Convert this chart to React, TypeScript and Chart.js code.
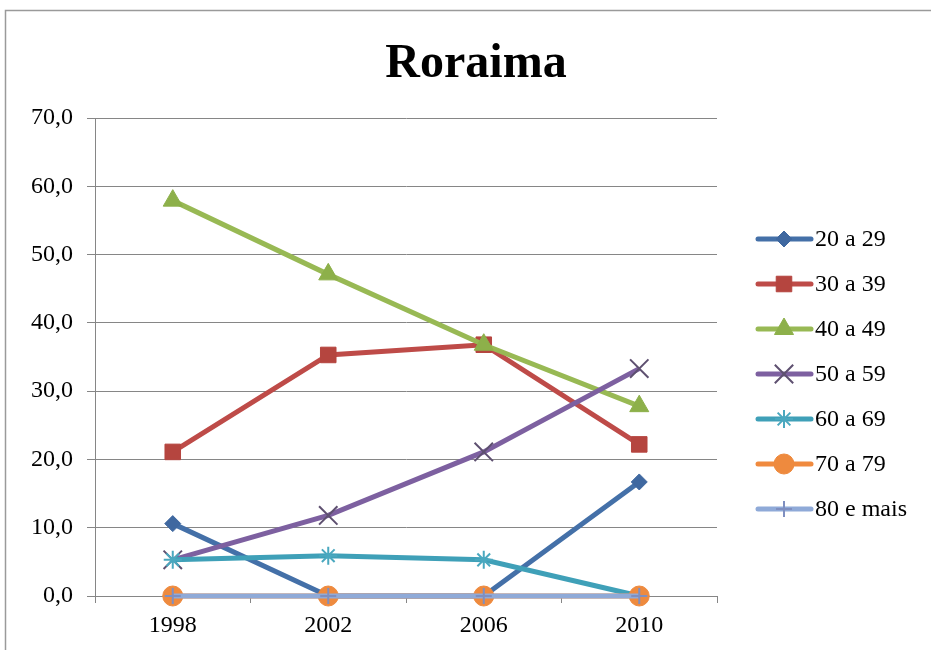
import React, { useEffect, useRef } from 'react';
import { Chart, registerables } from 'chart.js';
import { drawPoint } from 'chart.js/helpers';

Chart.register(...registerables);

const titleText = 'Roraima';
const years = ['1998', '2002', '2006', '2010'];
const yTickLabels = ['0,0', '10,0', '20,0', '30,0', '40,0', '50,0', '60,0', '70,0'];
const seriesNames = ['20 a 29', '30 a 39', '40 a 49', '50 a 59', '60 a 69', '70 a 79', '80 e mais'];
const s20a29 = [10.6, 0, 0, 16.7];
const s30a39 = [21.1, 35.3, 36.8, 22.2];
const s40a49 = [57.9, 47.1, 36.8, 27.8];
const s50a59 = [5.3, 11.8, 21.1, 33.3];
const s60a69 = [5.3, 5.9, 5.3, 0];
const s70a79 = [0, 0, 0, 0];
const s80mais = [0, 0, 0, 0];

const seriesValues = [s20a29, s30a39, s40a49, s50a59, s60a69, s70a79, s80mais];
const colors = ['#4470A8', '#BE4B48', '#98B954', '#7D60A0', '#3FA0B8', '#F08A3E', '#8FAAD8'];
const markerColors = ['#3F68A0', '#B5453F', '#8DB04A', '#5E5070', '#4AA8BF', '#EE8A3E', '#7F8FC0'];
const styles = ['rectRot', 'rect', 'triangle', 'crossRot', 'star', 'circle', 'cross'];
const radii = [8, 11, 11, 13, 9, 10, 8];
const filled = [true, true, true, false, false, true, false];

const FONT = 'Liberation Serif, Times New Roman, serif';

const framePlugin = {
  id: 'frame',
  beforeDraw(chart: any) {
    const ctx = chart.ctx;
    ctx.save();
    ctx.fillStyle = '#fff';
    ctx.fillRect(0, 0, chart.width, chart.height);
    ctx.strokeStyle = '#9a9a9a';
    ctx.lineWidth = 1.5;
    ctx.beginPath();
    ctx.moveTo(5.5, chart.height);
    ctx.lineTo(5.5, 10.5);
    ctx.lineTo(chart.width, 10.5);
    ctx.stroke();
    ctx.fillStyle = '#000';
    ctx.font = 'bold 48px ' + FONT;
    ctx.textAlign = 'center';
    ctx.textBaseline = 'alphabetic';
    ctx.fillText(titleText, 476, 77);
    ctx.restore();
  },
  afterDraw(chart: any) {
    const ctx = chart.ctx;
    ctx.save();
    chart.data.datasets.forEach((ds: any, i: number) => {
      const y = 239 + i * 45;
      ctx.strokeStyle = ds.borderColor;
      ctx.lineWidth = 5;
      ctx.lineCap = 'round';
      ctx.beginPath();
      ctx.moveTo(758, y);
      ctx.lineTo(811, y);
      ctx.stroke();
      ctx.lineCap = 'butt';
      ctx.lineWidth = ds.pointBorderWidth;
      ctx.strokeStyle = ds.pointBorderColor;
      ctx.fillStyle = ds.pointBackgroundColor;
      drawPoint(ctx, { pointStyle: ds.pointStyle, radius: ds.pointRadius, borderWidth: ds.pointBorderWidth, rotation: 0 } as any, 784, y);
      ctx.fillStyle = '#000';
      ctx.font = '24px ' + FONT;
      ctx.textAlign = 'left';
      ctx.textBaseline = 'middle';
      ctx.fillText(ds.label, 815, y + 1);
    });
    ctx.restore();
  },
};

export default function App() {
  const ref = useRef<HTMLCanvasElement | null>(null);
  useEffect(() => {
    document.body.style.margin = '0';
    if (!ref.current) return;
    const datasets = seriesValues.map((vals, i) => ({
      label: seriesNames[i],
      data: vals,
      borderColor: colors[i],
      backgroundColor: colors[i],
      borderWidth: 5,
      pointStyle: styles[i],
      pointRadius: radii[i],
      pointBorderWidth: filled[i] ? 1 : 2,
      pointBorderColor: markerColors[i],
      pointBackgroundColor: filled[i] ? markerColors[i] : 'rgba(0,0,0,0)',
      tension: 0,
      clip: false,
      order: seriesValues.length - i,
    }));
    const tickFont = { family: FONT, size: 24 };
    const chart = new Chart(ref.current, {
      type: 'line',
      data: { labels: years, datasets },
      options: {
        responsive: false,
        animation: false,
        layout: { padding: { top: 118, right: 214, bottom: 0, left: 0 } },
        plugins: { legend: { display: false }, title: { display: false }, tooltip: { enabled: false } },
        scales: {
          x: {
            offset: true,
            grid: { drawOnChartArea: false, drawTicks: true, tickLength: 7, color: '#868686', offset: true },
            border: { display: true, color: '#868686' },
            ticks: { font: tickFont, color: '#000', padding: 8, maxRotation: 0 },
            afterFit: (s: any) => { s.height = 54; },
          },
          y: {
            min: 0,
            max: 70,
            grid: { color: '#868686', tickLength: 8 },
            border: { display: true, color: '#868686' },
            ticks: { stepSize: 10, font: tickFont, color: '#000', padding: 14, callback: (_v: any, i: number) => yTickLabels[i] },
            afterFit: (s: any) => { s.width = 95; },
          },
        },
      },
      plugins: [framePlugin],
    } as any);
    return () => chart.destroy();
  }, []);
  return (
    <div style={{ width: 931, height: 650 }}>
      <canvas ref={ref} width={931} height={650} style={{ display: 'block' }} />
    </div>
  );
}
